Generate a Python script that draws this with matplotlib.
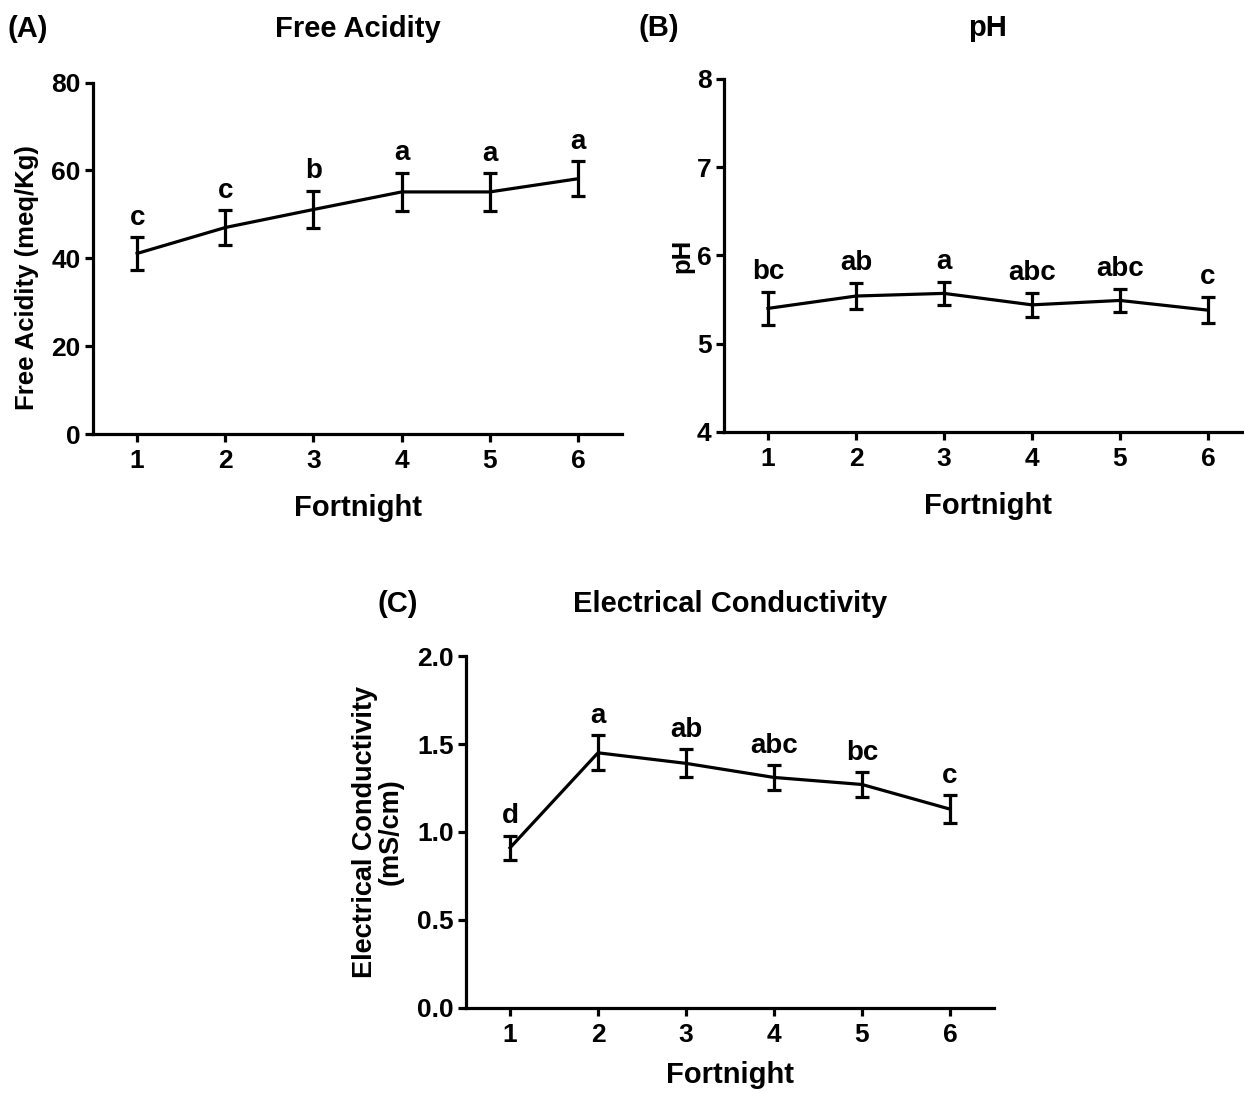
import matplotlib
matplotlib.use("Agg")
import matplotlib.pyplot as plt
import numpy as np

plt.rcParams['font.family'] = ['Liberation Sans', 'DejaVu Sans']

fortnight = [1, 2, 3, 4, 5, 6]

# (A) free acidity, meq/Kg
acid_mean = [41.1, 47.0, 51.1, 55.1, 55.1, 58.1]
acid_err = [3.7, 3.9, 4.3, 4.4, 4.3, 4.0]
acid_letters = ["c", "c", "b", "a", "a", "a"]

# (B) pH
ph_mean = [5.40, 5.54, 5.57, 5.44, 5.49, 5.38]
ph_err = [0.19, 0.15, 0.13, 0.14, 0.13, 0.15]
ph_letters = ["bc", "ab", "a", "abc", "abc", "c"]

# (C) electrical conductivity, mS/cm
ec_mean = [0.91, 1.45, 1.39, 1.31, 1.27, 1.13]
ec_err = [0.07, 0.10, 0.08, 0.07, 0.07, 0.08]
ec_letters = ["d", "a", "ab", "abc", "bc", "c"]

LW = 2.3
fig = plt.figure(figsize=(12.44, 10.93), dpi=100)


def panel(rect, mean, err, letters, ylim, yticks, fmt, xlab_y=-0.21):
    ax = fig.add_axes(rect)
    ax.errorbar(fortnight, mean, yerr=err, color='black', lw=LW,
                elinewidth=LW, capsize=5, capthick=LW)
    for x, m, e, t in zip(fortnight, mean, err, letters):
        ax.annotate(t, (x, m + e), xytext=(0, 9), textcoords='offset points',
                    ha='center', va='baseline', fontsize=20, fontweight='bold')
    ax.set_xlim(0.5, 6.5)
    ax.set_ylim(*ylim)
    ax.set_xticks(fortnight)
    ax.set_yticks(yticks)
    ax.set_yticklabels([fmt.format(v) for v in yticks])
    for s in ['top', 'right']:
        ax.spines[s].set_visible(False)
    for s in ['left', 'bottom']:
        ax.spines[s].set_linewidth(LW)
    ax.tick_params(direction='out', length=6, width=LW, labelsize=19)
    ax.tick_params(axis='x', pad=5)
    ax.tick_params(axis='y', pad=3)
    for lab in ax.get_xticklabels() + ax.get_yticklabels():
        lab.set_fontweight('bold')
    ax.set_xlabel("Fortnight", fontsize=21, fontweight='bold')
    ax.xaxis.set_label_coords(0.5, xlab_y)
    ax.xaxis.label.set_va('center')
    return ax


axA = panel([0.0748, 0.6029, 0.4252, 0.3216], acid_mean, acid_err, acid_letters,
            (0, 80), [0, 20, 40, 60, 80], "{:g}")
axA.set_ylabel("Free Acidity (meq/Kg)", fontsize=18.5, fontweight='bold')
axA.yaxis.set_label_coords(-0.125, 0.445)
axA.yaxis.label.set_va('center')

axB = panel([0.582, 0.6048, 0.4244, 0.323], ph_mean, ph_err, ph_letters,
            (4, 8), [4, 5, 6, 7, 8], "{:g}")
axB.set_ylabel("pH", fontsize=18.5, fontweight='bold')
axB.yaxis.set_label_coords(-0.078, 0.5)
axB.yaxis.label.set_va('center')

axC = panel([0.3746, 0.0778, 0.4244, 0.322], ec_mean, ec_err, ec_letters,
            (0, 2.0), [0.0, 0.5, 1.0, 1.5, 2.0], "{:.1f}", xlab_y=-0.19)
axC.set_ylabel("Electrical Conductivity\n(mS/cm)", fontsize=19.5,
               fontweight='bold', linespacing=1.0)
axC.yaxis.set_label_coords(-0.167, 0.5)
axC.yaxis.label.set_va('center')

# titles and panel letters
fig.text(0.2873, 0.966, "Free Acidity", ha='center', va='baseline',
         fontsize=21, fontweight='bold')
fig.text(0.0064, 0.966, "(A)", ha='left', va='baseline', fontsize=21, fontweight='bold')
fig.text(0.7942, 0.967, "pH", ha='center', va='baseline', fontsize=21, fontweight='bold')
fig.text(0.513, 0.967, "(B)", ha='left', va='baseline', fontsize=21, fontweight='bold')
fig.text(0.5868, 0.440, "Electrical Conductivity", ha='center', va='baseline',
         fontsize=21, fontweight='bold')
fig.text(0.3035, 0.440, "(C)", ha='left', va='baseline', fontsize=21, fontweight='bold')

fig.savefig("out.png", dpi=100)
